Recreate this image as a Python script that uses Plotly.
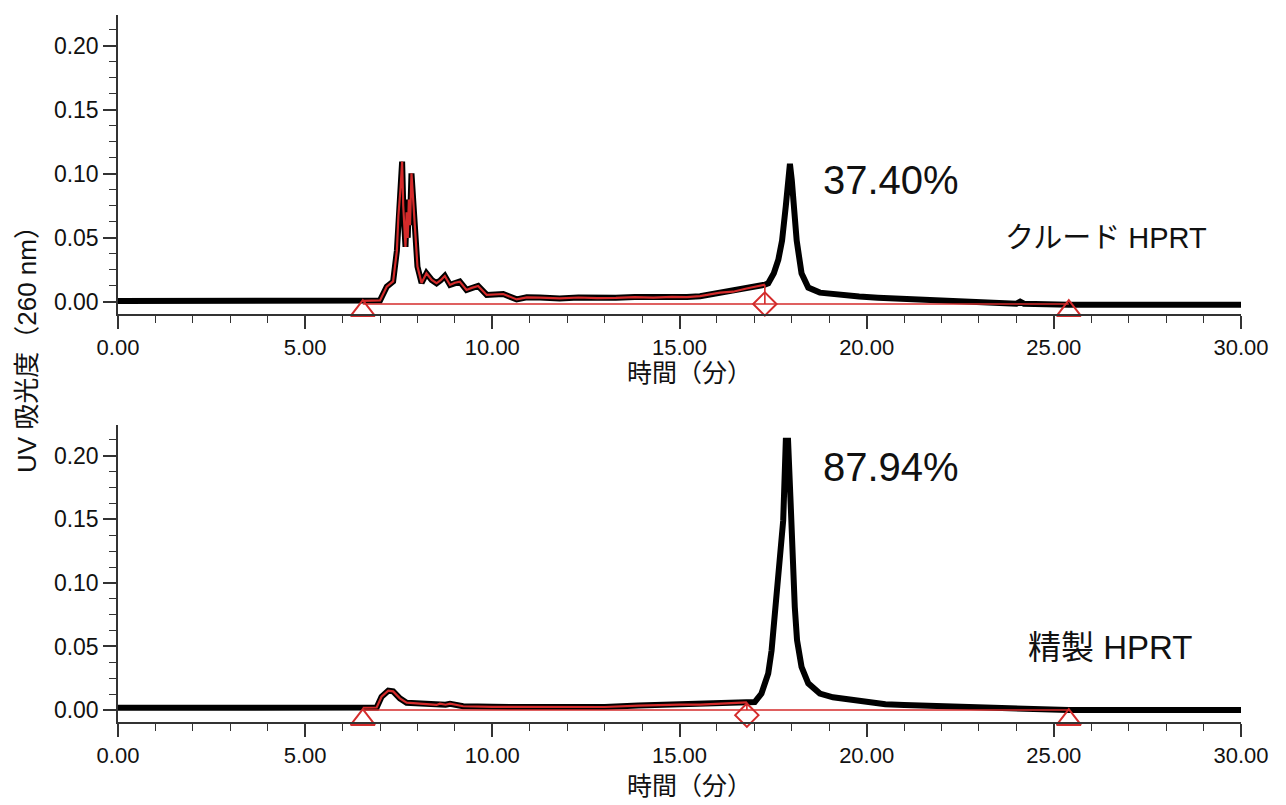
import numpy as np
import plotly.graph_objects as go

# ---------------- data ----------------
# Crude HPRT chromatogram (time in min, absorbance at 260 nm)
crude_time = [0.0, 6.5, 7.0, 7.18, 7.35, 7.45, 7.49, 7.55, 7.59, 7.62, 7.65, 7.68, 7.71, 7.74, 7.77, 7.8,
              7.84, 7.88, 7.93, 8.0, 8.11, 8.24, 8.38, 8.51, 8.62, 8.73, 8.87, 9.0, 9.13, 9.31, 9.45,
              9.62, 9.85, 10.05, 10.29, 10.65, 10.92, 11.27, 11.8, 12.3, 12.8, 13.3, 13.8, 14.3, 14.8,
              15.2, 15.55, 16.08, 16.43, 16.79, 17.1, 17.28, 17.37, 17.52, 17.64, 17.74, 17.84, 17.9,
              17.95, 18.0, 18.06, 18.13, 18.26, 18.44, 18.75, 19.28, 19.8, 20.3, 20.8, 21.3, 21.9,
              22.5, 23.0, 23.5, 24.0, 24.1, 24.2, 24.8, 25.4, 30.0]
crude_abs = [0.0008, 0.0008, 0.0012, 0.012, 0.016, 0.04, 0.067, 0.09, 0.1096, 0.075, 0.055, 0.043, 0.07,
             0.05, 0.08, 0.06, 0.1005, 0.08, 0.059, 0.0276, 0.0148, 0.0224, 0.0172, 0.0146, 0.017, 0.0203,
             0.0133, 0.015, 0.0159, 0.0094, 0.011, 0.0125, 0.0055, 0.006, 0.0062, 0.002, 0.0036, 0.0034,
             0.0028, 0.0035, 0.003, 0.0032, 0.0038, 0.0034, 0.004, 0.0038, 0.0045, 0.0073, 0.008, 0.0105,
             0.0125, 0.0135, 0.0146, 0.0224, 0.033, 0.048, 0.075, 0.097, 0.108, 0.095, 0.07, 0.048, 0.0224,
             0.0112, 0.0073, 0.0052, 0.0042, 0.0033, 0.0027, 0.0021, 0.0008, -0.0004, -0.001, -0.0012,
             -0.0014, 0.0002, -0.0014, -0.0018, -0.0022, -0.0022]

# Purified HPRT chromatogram
pure_time = [0.0, 6.5, 6.91, 7.04, 7.22, 7.35, 7.53, 7.71, 8.24, 8.51, 8.6, 8.75, 8.87, 8.99, 9.22,
             10.0, 11.0, 12.0, 13.0, 13.9, 14.5, 15.0, 15.55, 16.43, 17.01, 17.19, 17.37, 17.46, 17.55,
             17.68, 17.77, 17.84, 17.9, 17.97, 18.02, 18.08, 18.14, 18.26, 18.44, 18.75, 19.1, 19.28,
             20.0, 20.5, 21.0, 21.5, 22.0, 22.5, 23.0, 23.5, 24.0, 24.5, 25.0, 25.4, 30.0]
pure_abs = [0.0018, 0.0018, 0.002, 0.0105, 0.0152, 0.0147, 0.0092, 0.0058, 0.005, 0.004, 0.005, 0.0042,
            0.005, 0.0045, 0.003, 0.0025, 0.0024, 0.0025, 0.0024, 0.0035, 0.004, 0.0042, 0.0042, 0.0054,
            0.0063, 0.013, 0.0288, 0.047, 0.081, 0.115, 0.149, 0.2118, 0.2118, 0.162, 0.1176, 0.081,
            0.055, 0.034, 0.021, 0.013, 0.01, 0.0092, 0.006, 0.0045, 0.004, 0.0035, 0.003, 0.003, 0.0025,
            0.002, 0.0015, 0.0008, 0.0002, 0.0, 0.0]

# Integration marks: (start, split, end) times and levels
crude_marks_time = [6.54, 17.28, 25.4]
crude_baseline_level = -0.0016
crude_triangle_level = -0.0068
pure_marks_time = [6.54, 16.8, 25.4]
pure_baseline_level = 0.0
pure_triangle_level = -0.0076
pure_diamond_level = -0.004

purity_labels = ["37.40%", "87.94%"]
sample_labels = ["クルード HPRT", "精製 HPRT"]
x_title = "時間（分）"
y_title = "UV 吸光度（260 nm）"

RED = "#d42b2b"
FONT = "Liberation Sans, Arial, Noto Sans CJK JP, sans-serif"

fig = go.Figure()


def add_panel(t, a, marks, base_lvl, tri_lvl, dia_lvl, xa, ya):
    t = np.array(t)
    a = np.array(a)
    fig.add_trace(go.Scatter(x=t, y=a, mode="lines", line=dict(color="black", width=6),
                             xaxis=xa, yaxis=ya, hoverinfo="skip"))
    # red overlay on impurity region (start -> split)
    m = (t > marks[0]) & (t < marks[1])
    rt = np.concatenate([[marks[0]], t[m], [marks[1]]])
    ra = np.interp(rt, t, a)
    fig.add_trace(go.Scatter(x=rt, y=ra, mode="lines", line=dict(color=RED, width=2.2),
                             xaxis=xa, yaxis=ya, hoverinfo="skip"))
    # baseline
    fig.add_trace(go.Scatter(x=[marks[0], marks[2]], y=[base_lvl, base_lvl], mode="lines",
                             line=dict(color=RED, width=1.6), xaxis=xa, yaxis=ya, hoverinfo="skip"))
    # split drop line
    fig.add_trace(go.Scatter(x=[marks[1], marks[1]], y=[base_lvl, float(np.interp(marks[1], t, a))],
                             mode="lines", line=dict(color=RED, width=1.6), xaxis=xa, yaxis=ya,
                             hoverinfo="skip"))
    fig.add_trace(go.Scatter(x=[marks[0], marks[2]], y=[tri_lvl, tri_lvl], mode="markers",
                             marker=dict(symbol="triangle-up-open", size=21, color=RED,
                                         line=dict(width=2, color=RED)),
                             cliponaxis=False, xaxis=xa, yaxis=ya, hoverinfo="skip"))
    fig.add_trace(go.Scatter(x=[marks[1]], y=[dia_lvl], mode="markers",
                             marker=dict(symbol="diamond-open", size=18, color=RED,
                                         line=dict(width=2, color=RED)),
                             cliponaxis=False, xaxis=xa, yaxis=ya, hoverinfo="skip"))


add_panel(crude_time, crude_abs, crude_marks_time, crude_baseline_level, crude_triangle_level,
          crude_baseline_level, "x", "y")
add_panel(pure_time, pure_abs, pure_marks_time, pure_baseline_level, pure_triangle_level,
          pure_diamond_level, "x2", "y2")

axis_color = "#333333"
xcommon = dict(range=[0, 30], showline=True, linecolor=axis_color, linewidth=1.5, ticks="outside",
               ticklen=13, tickwidth=1.5, tickcolor=axis_color, dtick=5, tick0=0, tickformat=".2f",
               showgrid=False, zeroline=False, tickfont=dict(family=FONT, size=22, color="#111"),
               minor=dict(dtick=1, ticklen=7, tickwidth=1.3, tickcolor=axis_color, ticks="outside",
                          showgrid=False))
ycommon = dict(range=[-0.0094, 0.2242], showline=True, linecolor=axis_color, linewidth=1.5,
               ticks="outside", ticklen=13, tickwidth=1.5, tickcolor=axis_color, dtick=0.05, tick0=0,
               tickformat=".2f", showgrid=False, zeroline=False,
               tickfont=dict(family=FONT, size=23, color="#111"),
               minor=dict(dtick=0.0125, ticklen=7, tickwidth=1.3, tickcolor=axis_color,
                          ticks="outside", showgrid=False))

fig.update_layout(
    width=1278, height=797,
    margin=dict(l=110, r=45, t=7, b=83),
    paper_bgcolor="white", plot_bgcolor="white",
    showlegend=False,
    xaxis=dict(**xcommon, anchor="y"),
    yaxis=dict(**ycommon, domain=[0.5771, 1.0], anchor="x"),
    xaxis2=dict(**xcommon, anchor="y2"),
    yaxis2=dict(**ycommon, domain=[0.0, 0.42], anchor="x2"),
)

ann = []
# x axis titles
for yy in [0.4936, -0.0905]:
    ann.append(dict(text=x_title, xref="paper", yref="paper", x=0.509, y=yy, showarrow=False,
                    xanchor="center", yanchor="middle",
                    font=dict(family=FONT, size=25, color="#111")))
# y axis title
ann.append(dict(text=y_title, xref="paper", yref="paper", x=-0.081, y=0.536, showarrow=False,
                textangle=-90, xanchor="center", yanchor="middle",
                font=dict(family=FONT, size=26, color="#111")))
# purity labels
ann.append(dict(text=purity_labels[0], xref="x", yref="y", x=20.65, y=(302 - 180) / 1280,
                showarrow=False, xanchor="center", yanchor="middle",
                font=dict(family=FONT, size=40, color="#111")))
ann.append(dict(text=purity_labels[1], xref="x2", yref="y2", x=20.65, y=(710 - 466) / 1275,
                showarrow=False, xanchor="center", yanchor="middle",
                font=dict(family=FONT, size=40, color="#111")))
# sample labels
ann.append(dict(text=sample_labels[0], xref="x", yref="y", x=26.4, y=(302 - 238) / 1280,
                showarrow=False, xanchor="center", yanchor="middle",
                font=dict(family=FONT, size=29, color="#111")))
ann.append(dict(text=sample_labels[1], xref="x2", yref="y2", x=26.5, y=(710 - 647) / 1275,
                showarrow=False, xanchor="center", yanchor="middle",
                font=dict(family=FONT, size=33, color="#111")))
fig.update_layout(annotations=ann)

fig.write_html("out.html")
